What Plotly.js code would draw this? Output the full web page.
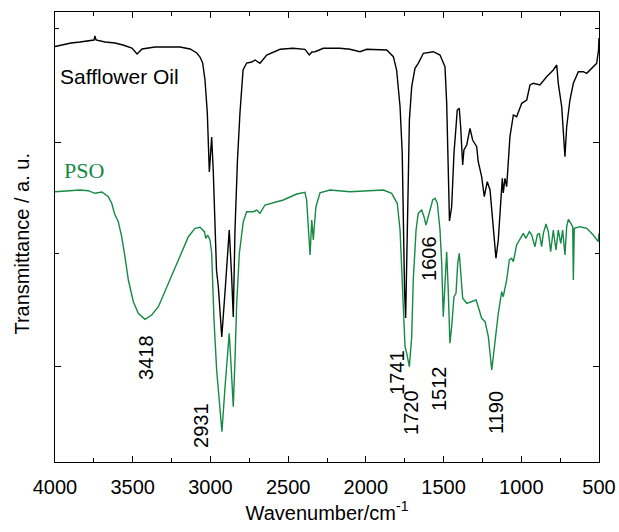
<!DOCTYPE html>
<html>
<head>
<meta charset="utf-8">
<script src="https://cdn.plot.ly/plotly-3.0.1.min.js"></script>
<style>html,body{margin:0;padding:0;background:#fff;}#chart{width:619px;height:532px;}</style>
</head>
<body>
<div id="chart"></div>
<script>
// Safflower oil spectrum (wavenumber, transmittance a.u.)
var oilWn = [4000,3955,3897,3839,3788,3749,3743,3736,3678,3614,3563,3505,3472,3440,3357,3279,3196,3131,3088,3067,3050,3035,3020,3007,2992,2982,2971,2961,2949,2927,2903,2879,2864,2853,2842,2826,2810,2790,2767,2734,2713,2681,2638,2552,2469,2392,2364,2347,2327,2274,2166,2102,2038,1995,1866,1823,1802,1780,1766,1759,1751,1744,1735,1727,1720,1705,1684,1663,1630,1566,1523,1491,1480,1470,1462,1448,1433,1420,1412,1399,1390,1377,1369,1351,1330,1313,1287,1277,1255,1238,1219,1201,1180,1163,1148,1132,1122,1116,1105,1094,1073,1051,1030,997,965,944,923,880,837,794,772,762,740,719,708,687,665,633,601,579,547,515,503,500];
var oilT = [415.5,417,419,420,421,422,426,422,420,419,417,414,408,413,415,415.3,415,413,409,405,399,382,349,290,325,292,232,192,175,125,177,232,187,145,232,302,349,392,399,400,402,398.7,407,412.7,413.7,412.7,407,410,410.3,413.7,413.7,412.7,410.3,412.7,412,405.3,392,355.3,309,225,172,144,202,282,342,375.3,393.7,398.7,408.7,410.3,407,395.3,359,292,241,255,309,335,352,353.7,335,297,312,317,333.7,322,315.3,300.3,285.3,265.3,280.3,272,232,203.7,222,255.3,283.7,269,283.7,275.3,325.3,347,345.3,358.7,362,377,378.7,377,385.3,392,397,378.7,355.3,305.3,335.3,362,378.7,390.3,390.3,388.7,393.7,398.7,412,424];

// PSO spectrum
var psoWn = [4000,3903,3839,3786,3743,3698,3657,3635,3618,3593,3571,3550,3528,3496,3464,3421,3378,3335,3271,3207,3142,3099,3067,3039,3030,3018,3003,2992,2977,2960,2943,2926,2906,2891,2879,2868,2853,2842,2831,2814,2799,2789,2767,2724,2702,2681,2649,2531,2445,2392,2381,2370,2359,2348,2338,2332,2321,2295,2231,2102,1995,1888,1834,1798,1780,1769,1759,1748,1737,1720,1705,1695,1677,1663,1641,1626,1613,1592,1570,1555,1540,1523,1512,1502,1491,1480,1470,1459,1448,1433,1420,1409,1399,1388,1377,1351,1319,1291,1277,1255,1233,1212,1190,1169,1148,1126,1116,1094,1077,1062,1051,1030,1008,987,970,948,933,912,897,884,869,858,841,826,811,794,777,762,746,734,719,708,697,680,669,665,659,622,579,537,505,500];
var psoT = [270.3,271.5,272,271.3,268.7,270,265.3,258.7,248.7,240.3,225.3,205.3,182,160.3,148.7,142.7,147,155.3,178.7,202,225.3,233.7,234.7,230.3,223.7,227,222,209,142,92,62,30.3,75.3,108.7,128.7,98.7,55.3,102,158.7,208.7,232,240,250.3,250.3,252,248.7,257,262,268,269.7,262,228.7,207,242,222,235.3,255.3,269.3,272,270.3,271.3,272,268.7,258.7,232,188.7,142,115.3,108.7,95.3,125.3,182,232,248.7,252,245.3,237,248.7,262,263.7,258.7,232,198.7,145.3,182,210.3,172,118.7,135.3,165.3,168.7,198.7,208.7,188.7,163.7,158.7,160.3,162,155.3,143.7,140.3,125.3,92,122,148.7,170.3,165.3,182,202,203.7,200.3,217,223.7,228.7,223.7,230.3,227,215.3,227,228.7,215.3,228.7,238,230.3,210.3,232,212,232,218.7,232,207,235.3,242.7,238.7,235.3,182,233.7,235.3,233.7,227,220.3,228.7];

// Peak labels
var peakText = ["3418","2931","1741","1720","1512","1190","1606"];
var peakX = [3415,3061,1800,1710,1529,1163,1594];
var peakY = [105,37,90,50,73,50,204];

var xTickVals = [4000,3500,3000,2500,2000,1500,1000,500];
var xTickText = ["4000","3500","3000","2500","2000","1500","1000","500"];

var green = "#168a45";
var font = "Liberation Sans, Arial, sans-serif";

var traces = [
  {x: oilWn, y: oilT, type: "scatter", mode: "lines", line: {color: "#000000", width: 1.4}, hoverinfo: "skip"},
  {x: psoWn, y: psoT, type: "scatter", mode: "lines", line: {color: green, width: 1.4}, hoverinfo: "skip"}
];

var annotations = [];
for (var i = 0; i < peakText.length; i++) {
  annotations.push({x: peakX[i], y: peakY[i], xref: "x", yref: "y", text: peakText[i], showarrow: false,
    textangle: -90, font: {family: font, size: 20, color: "#000"}, xanchor: "center", yanchor: "middle"});
}
annotations.push({x: 3980, y: 386, xref: "x", yref: "y", text: "Safflower Oil", showarrow: false,
  font: {family: font, size: 21, color: "#000"}, xanchor: "left", yanchor: "middle"});
annotations.push({x: 3955, y: 292, xref: "x", yref: "y", text: "PSO", showarrow: false,
  font: {family: "Liberation Serif, Times New Roman, serif", size: 22, color: green}, xanchor: "left", yanchor: "middle"});
annotations.push({x: -0.061, y: 0.485, xref: "paper", yref: "paper", text: "Transmittance / a. u.", showarrow: false,
  textangle: -90, font: {family: font, size: 20, color: "#000"}, xanchor: "center", yanchor: "middle"});

var layout = {
  width: 619, height: 532,
  margin: {l: 55, r: 20, t: 12, b: 70},
  paper_bgcolor: "#fff", plot_bgcolor: "#fff",
  showlegend: false,
  font: {family: font, size: 20, color: "#000"},
  xaxis: {
    range: [4000, 500], autorange: false,
    tickmode: "array", tickvals: xTickVals, ticktext: xTickText,
    ticks: "inside", ticklen: 6, tickwidth: 1, tickcolor: "#000",
    ticklabelstandoff: 7,
    minor: {tickmode: "linear", tick0: 250, dtick: 500, ticks: "inside", ticklen: 4, tickwidth: 1, tickcolor: "#000"},
    showline: true, linecolor: "#000", linewidth: 1, mirror: "ticks",
    showgrid: false, zeroline: false,
    tickfont: {family: font, size: 20, color: "#000"},
    title: {text: "Wavenumber/cm<sup>-1</sup>", font: {family: font, size: 20, color: "#000"}, standoff: 8}
  },
  yaxis: {
    range: [0, 450], autorange: false,
    tickmode: "array", tickvals: [96, 320], showticklabels: false,
    ticks: "inside", ticklen: 6, tickwidth: 1, tickcolor: "#000",
    minor: {tickmode: "array", tickvals: [209, 434], ticks: "inside", ticklen: 4, tickwidth: 1, tickcolor: "#000"},
    showline: true, linecolor: "#000", linewidth: 1, mirror: "ticks",
    showgrid: false, zeroline: false
  },
  annotations: annotations
};

Plotly.newPlot("chart", traces, layout, {staticPlot: true, displayModeBar: false});
</script>
</body>
</html>
